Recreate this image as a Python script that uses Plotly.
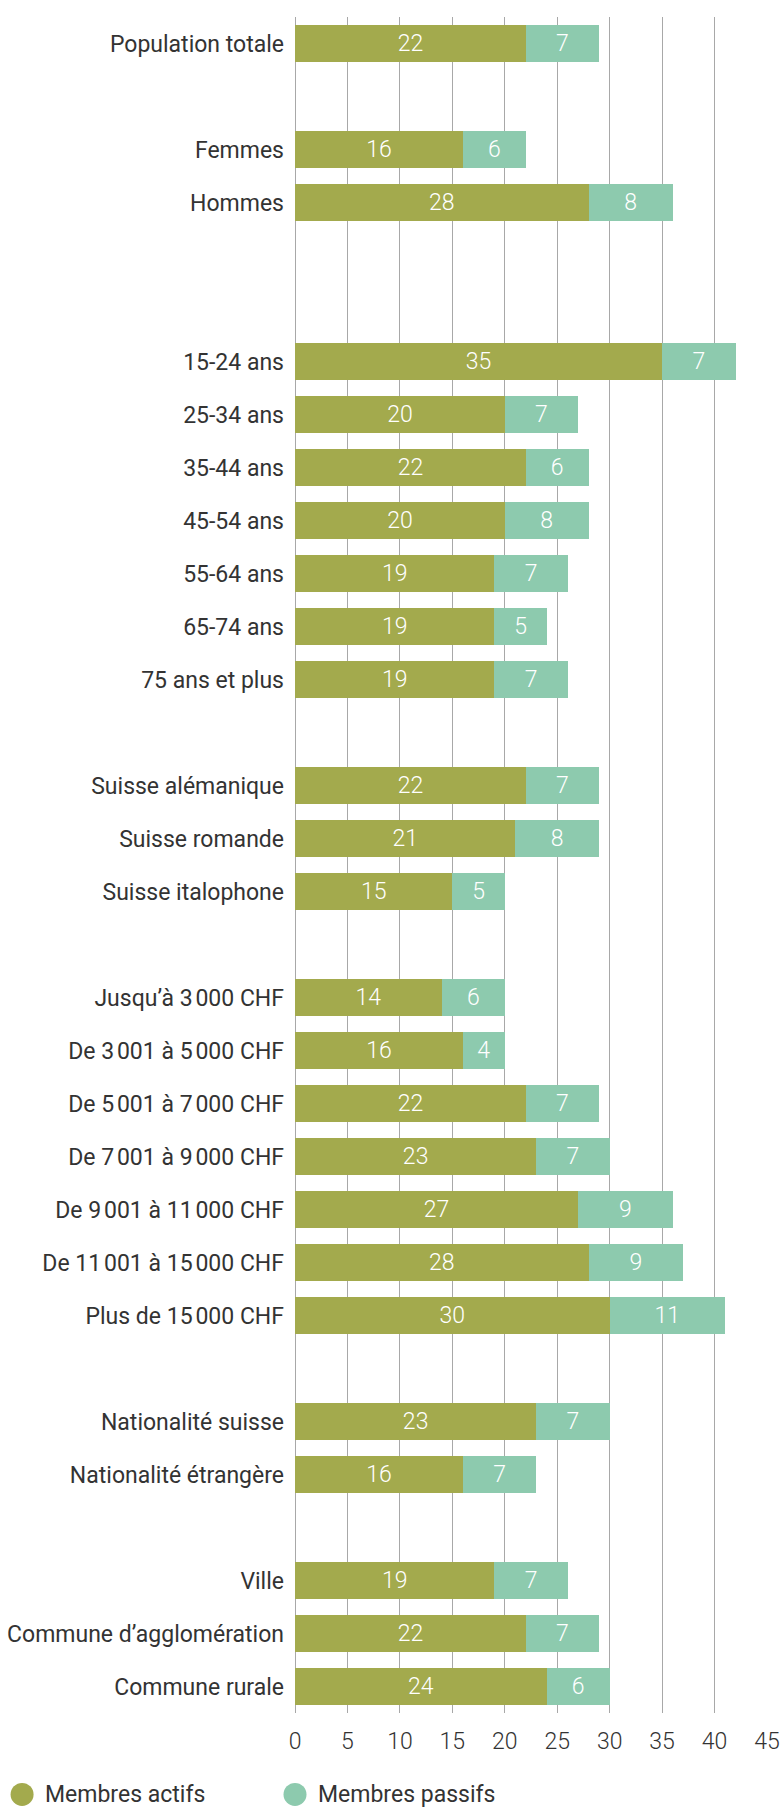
import plotly.graph_objects as go

categories = [
    "Population totale",
    "Femmes", "Hommes",
    "15-24 ans", "25-34 ans", "35-44 ans", "45-54 ans", "55-64 ans", "65-74 ans", "75 ans et plus",
    "Suisse alémanique", "Suisse romande", "Suisse italophone",
    "Jusqu\u2019à 3\u202f000 CHF", "De 3\u202f001 à 5\u202f000 CHF", "De 5\u202f001 à 7\u202f000 CHF",
    "De 7\u202f001 à 9\u202f000 CHF", "De 9\u202f001 à 11\u202f000 CHF", "De 11\u202f001 à 15\u202f000 CHF",
    "Plus de 15\u202f000 CHF",
    "Nationalité suisse", "Nationalité étrangère",
    "Ville", "Commune d\u2019agglomération", "Commune rurale",
]
membres_actifs = [22, 16, 28, 35, 20, 22, 20, 19, 19, 19, 22, 21, 15, 14, 16, 22, 23, 27, 28, 30, 23, 16, 19, 22, 24]
membres_passifs = [7, 6, 8, 7, 7, 6, 8, 7, 5, 7, 7, 8, 5, 6, 4, 7, 7, 9, 9, 11, 7, 7, 7, 7, 6]
group_sizes = [1, 2, 7, 3, 7, 2, 3]
x_ticks = [0, 5, 10, 15, 20, 25, 30, 35, 40, 45]
series_names = ["Membres actifs", "Membres passifs"]

# layout: blank slots between groups
gaps_before = [0, 1, 2, 1, 1, 1, 1]
positions = []
slot = 0
for g, n in enumerate(group_sizes):
    slot += gaps_before[g]
    for _ in range(n):
        positions.append(slot)
        slot += 1
n_slots = slot

W, H = 782, 1809
ML, MR, MT, MB = 294.5, 14.5, 17, 95.5

COL_A = "#A3AA4D"
COL_P = "#8DCAAE"
TXT = "#333333"
FONT = "Roboto"
FS = 23
WT = 400

fig = go.Figure()
for name, vals, col in [(series_names[0], membres_actifs, COL_A), (series_names[1], membres_passifs, COL_P)]:
    fig.add_trace(go.Bar(
        y=positions, x=vals, orientation="h", name=name,
        marker=dict(color=col, line=dict(width=0)),
        text=[str(v) for v in vals], textposition="inside", insidetextanchor="middle",
        textfont=dict(color="white", size=FS, family=FONT, weight=300),
        constraintext="none", cliponaxis=False, showlegend=False,
        hoverinfo="skip",
    ))

fig.update_layout(
    barmode="stack", bargap=0.29,
    width=W, height=H,
    margin=dict(l=ML, r=MR, t=MT, b=MB, autoexpand=False),
    paper_bgcolor="white", plot_bgcolor="white",
    font=dict(family=FONT, size=FS, color=TXT, weight=WT),
    showlegend=False,
)
fig.update_xaxes(
    range=[0, 45], tickvals=x_ticks, ticktext=[str(t) for t in x_ticks],
    showgrid=True, gridcolor="#A8A8A8", gridwidth=1,
    zeroline=True, zerolinecolor="#A8A8A8", zerolinewidth=1,
    showline=False, ticks="", ticklabelstandoff=12,
    tickfont=dict(size=FS, color=TXT, weight=300),
    automargin=False, fixedrange=True,
)
fig.update_yaxes(
    range=[n_slots - 0.5, -0.5], tickvals=positions, ticktext=categories,
    showgrid=False, zeroline=False, showline=False, ticks="",
    ticklabelstandoff=10, tickfont=dict(size=FS, color=TXT, weight=WT),
    automargin=False, fixedrange=True,
)

# manual legend
legend_x = [21, 294.5]
legend_y = 1795
for name, col, xc in [(series_names[0], COL_A, legend_x[0]), (series_names[1], COL_P, legend_x[1])]:
    xp = (xc - ML) / (W - ML - MR)
    yp = (H - MB - legend_y) / (H - MT - MB)
    fig.add_shape(type="circle", xref="paper", yref="paper",
                  xsizemode="pixel", ysizemode="pixel", xanchor=xp, yanchor=yp,
                  x0=-11.5, x1=11.5, y0=-11.5, y1=11.5,
                  fillcolor=col, line=dict(width=0))
    fig.add_annotation(x=xp, y=yp, xref="paper", yref="paper", text=name,
                       showarrow=False, xanchor="left", yanchor="middle",
                       xshift=21, font=dict(size=FS, color=TXT, family=FONT, weight=WT))

fig.write_html("out.html", config={"displayModeBar": False},
               post_script="document.body.style.margin='0';document.body.style.overflow='hidden';")
